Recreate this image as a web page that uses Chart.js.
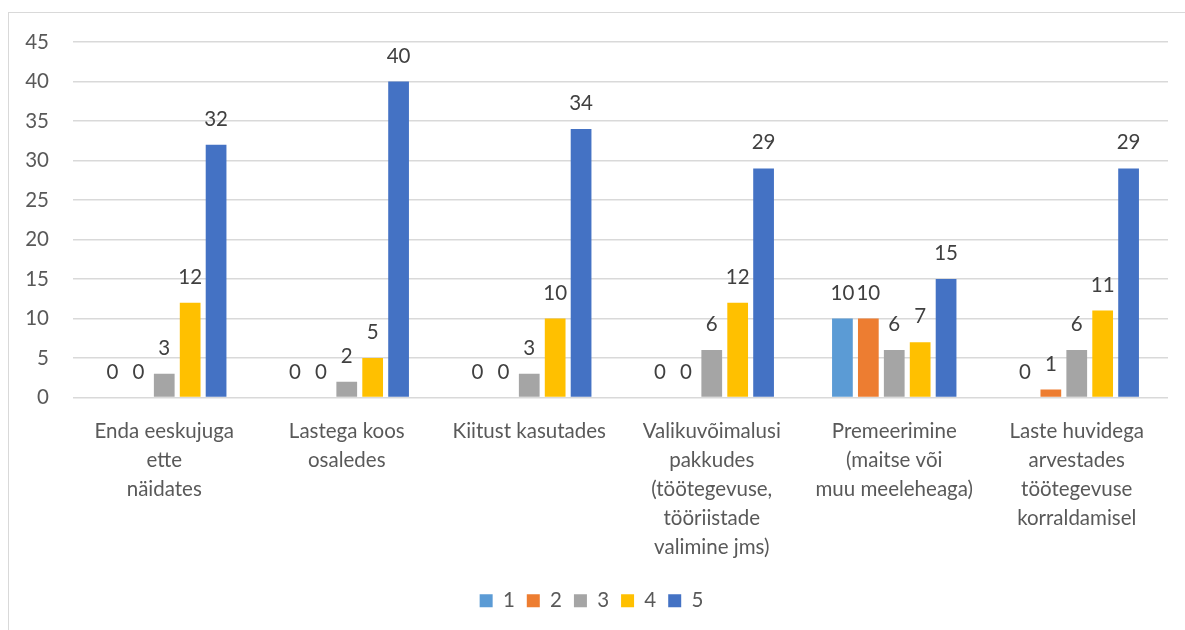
<!DOCTYPE html>
<html>
<head>
<meta charset="utf-8">
<script src="https://cdn.jsdelivr.net/npm/chart.js@4"></script>
<style>
    html, body { margin: 0; padding: 0; background: #fff; }
    #wrap { position: relative; width: 1185px; height: 630px; overflow: hidden; }
    #frame { position: absolute; left: 8px; top: 12px; width: 1200px; height: 640px; border: 1px solid #d9d9d9; box-sizing: border-box; }
    canvas { position: absolute; left: 0; top: 0; }
</style>
</head>
<body>
<div id="wrap">
    <div id="frame"></div>
    <canvas id="myChart" width="1185" height="630"></canvas>
</div>
<script>
// Kategooriad (x-telg), mitmerealised sildid
const categories = [
    ['Enda eeskujuga', 'ette', 'näidates'],
    ['Lastega koos', 'osaledes'],
    ['Kiitust kasutades'],
    ['Valikuvõimalusi', 'pakkudes', '(töötegevuse,', 'tööriistade', 'valimine jms)'],
    ['Premeerimine', '(maitse või', 'muu meeleheaga)'],
    ['Laste huvidega', 'arvestades', 'töötegevuse', 'korraldamisel']
];

// Hinnangud 1..5
const series1 = [0, 0, 0, 0, 10, 0];
const series2 = [0, 0, 0, 0, 10, 1];
const series3 = [3, 2, 3, 6, 6, 6];
const series4 = [12, 5, 10, 12, 7, 11];
const series5 = [32, 40, 34, 29, 15, 29];

const seriesNames = ['1', '2', '3', '4', '5'];
const colors = ['#5B9BD5', '#ED7D31', '#A5A5A5', '#FFC000', '#4472C4'];

const FONT = 'Lato, Carlito, Calibri, sans-serif';

// Väärtuste sildid tulpade kohal
const valueLabels = {
    id: 'valueLabels',
    afterDatasetsDraw(chart) {
        const ctx = chart.ctx;
        ctx.save();
        ctx.font = '20.5px ' + FONT;
        ctx.fillStyle = '#404040';
        ctx.textAlign = 'center';
        ctx.textBaseline = 'alphabetic';
        chart.data.datasets.forEach((ds, i) => {
            const meta = chart.getDatasetMeta(i);
            meta.data.forEach((bar, j) => {
                ctx.fillText(String(ds.data[j]), bar.x, bar.y - 19);
            });
        });
        ctx.restore();
    }
};

const allSeries = [series1, series2, series3, series4, series5];

const ctx = document.getElementById('myChart').getContext('2d');
const myChart = new Chart(ctx, {
    type: 'bar',
    data: {
        labels: categories,
        datasets: allSeries.map((vals, i) => ({
            label: seriesNames[i],
            data: vals,
            backgroundColor: colors[i],
            categoryPercentage: 0.71,
            barPercentage: 0.8
        }))
    },
    options: {
        responsive: false,
        animation: false,
        layout: { padding: { left: 15, right: 17, top: 42, bottom: 9 } },
        plugins: {
            legend: {
                position: 'bottom',
                labels: {
                    boxWidth: 13,
                    boxHeight: 13,
                    padding: 12,
                    color: '#595959',
                    font: { family: FONT, size: 20.5 }
                }
            },
            tooltip: { enabled: false }
        },
        scales: {
            x: {
                grid: { display: false },
                border: { display: false },
                ticks: {
                    color: '#595959',
                    font: { family: FONT, size: 20.5, lineHeight: 1.42 },
                    maxRotation: 0,
                    autoSkip: false,
                    padding: 11
                },
                afterFit(scale) { scale.height = 181; }
            },
            y: {
                min: 0,
                max: 45,
                ticks: {
                    stepSize: 5,
                    color: '#595959',
                    font: { family: FONT, size: 20.5 },
                    padding: 24
                },
                grid: { color: '#d9d9d9', lineWidth: 1.5, drawTicks: false },
                border: { display: false },
                afterFit(scale) { scale.width = 58; }
            }
        }
    },
    plugins: [valueLabels]
});
</script>
</body>
</html>
